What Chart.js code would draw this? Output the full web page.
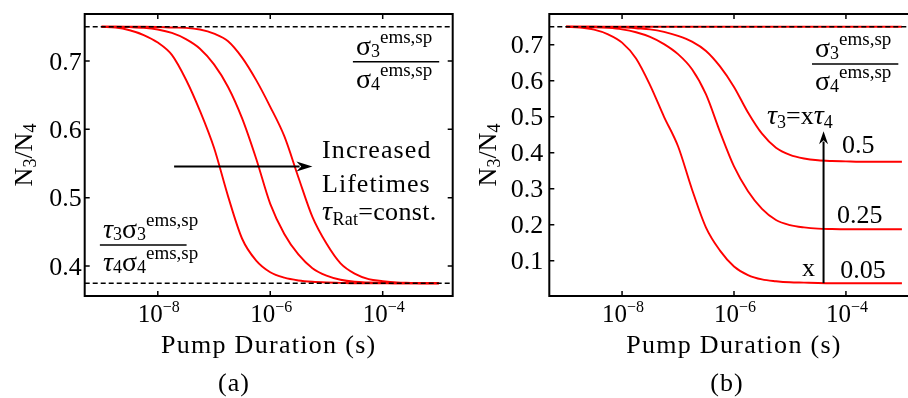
<!DOCTYPE html>
<html>
<head>
<meta charset="utf-8">
<script src="https://cdn.jsdelivr.net/npm/chart.js@4.4.1/dist/chart.umd.min.js"></script>
<style>
  html, body { margin: 0; padding: 0; background: #fff; overflow: hidden; width: 908px; height: 398px; }
  canvas { position: absolute; top: 0; }
  #chartA { left: 0; }
  #chartB { left: 460px; }
</style>
</head>
<body>
<canvas id="chartA" width="460" height="398"></canvas>
<canvas id="chartB" width="470" height="398"></canvas>
<script>
// pump duration grid, as powers of ten (s)
const exps = [-9, -8.75, -8.5, -8.25, -8, -7.75, -7.5, -7.25, -7, -6.75, -6.5, -6.25, -6,
              -5.75, -5.5, -5.25, -5, -4.75, -4.5, -4.25, -4, -3.75, -3.5, -3.25, -3];

// (a) increased lifetimes, tau ratio constant
const curveA1 = [.750, .749, .745, .738, .727, .709, .673, .627, .573, .502, .440, .408, .391,
                 .383, .379, .377, .376, .3755, .375, .375, .375, .375, .375, .375, .375];
const curveA2 = [.750, .750, .7495, .7485, .746, .741, .732, .718, .695, .662, .616, .557, .491,
                 .447, .417, .397, .386, .380, .377, .376, .3755, .375, .375, .375, .375];
const curveA3 = [.750, .750, .750, .750, .7498, .749, .7485, .746, .740, .729, .705, .672, .633,
                 .590, .530, .472, .433, .404, .389, .381, .378, .376, .3755, .375, .375];

// (b) tau3 = x * tau4
const curveB0 = exps.map(() => 0.75);
const curveB1 = [.750, .748, .742, .729, .706, .662, .588, .500, .418, .298, .192, .128, .084,
                 .060, .048, .043, .040, .039, .038, .0375, .0375, .0375, .0375, .0375, .0375];
const curveB2 = [.750, .7495, .749, .747, .743, .735, .722, .702, .674, .632, .562, .458, .362,
                 .293, .244, .213, .199, .1925, .189, .188, .1875, .1875, .1875, .1875, .1875];
const curveB3 = [.750, .750, .750, .7495, .749, .746, .743, .736, .725, .709, .683, .640, .583,
                 .512, .453, .414, .394, .384, .379, .377, .376, .375, .375, .375, .375];

const limitsA = [0.75, 0.375];
const limitsB = [0.75];

const xTickExps = [-8, -6, -4];
const yTicksA = [0.4, 0.5, 0.6, 0.7];
const yTicksB = [0.1, 0.2, 0.3, 0.4, 0.5, 0.6, 0.7];

const FONT = '"Liberation Serif", "Times New Roman", serif';
const RED = '#ff0000';

function font(size, it) {
    return (it ? 'italic ' : '') + size + 'px ' + FONT;
}

// parts: [text, size, dy, italic]
function rich(ctx, x, y, parts, align, ls) {
    ctx.letterSpacing = (ls || 0) + 'px';
    let w = 0;
    const ws = parts.map(p => {
        ctx.font = font(p[1], p[3]);
        const m = ctx.measureText(p[0]).width;
        w += m;
        return m;
    });
    let cx = align === 'center' ? x - w / 2 : align === 'right' ? x - w : x;
    parts.forEach((p, i) => {
        ctx.font = font(p[1], p[3]);
        ctx.fillText(p[0], cx, y + (p[2] || 0));
        cx += ws[i];
    });
    ctx.letterSpacing = '0px';
}

function frac(ctx, left, barY, barW, top, bottom) {
    ctx.lineWidth = 1.5;
    ctx.beginPath();
    ctx.moveTo(left, barY);
    ctx.lineTo(left + barW, barY);
    ctx.stroke();
    rich(ctx, left + 3, barY - 7, top, 'left');
    rich(ctx, left + 3, barY + 26, bottom, 'left');
}

function arrow(ctx, x0, y0, x1, y1, len, half) {
    const ang = Math.atan2(y1 - y0, x1 - x0);
    ctx.lineWidth = 2;
    ctx.beginPath();
    ctx.moveTo(x0, y0);
    ctx.lineTo(x1 - Math.cos(ang) * len * 0.8, y1 - Math.sin(ang) * len * 0.8);
    ctx.stroke();
    ctx.beginPath();
    ctx.moveTo(x1, y1);
    ctx.lineTo(x1 - Math.cos(ang) * len - Math.sin(ang) * half, y1 - Math.sin(ang) * len + Math.cos(ang) * half);
    ctx.lineTo(x1 - Math.cos(ang) * len * 0.7, y1 - Math.sin(ang) * len * 0.7);
    ctx.lineTo(x1 - Math.cos(ang) * len + Math.sin(ang) * half, y1 - Math.sin(ang) * len - Math.cos(ang) * half);
    ctx.closePath();
    ctx.fill();
}

function points(vals) {
    return exps.map((e, i) => ({ x: Math.pow(10, e), y: vals[i] }));
}

function redLine(vals) {
    return { data: points(vals), borderColor: RED, borderWidth: 1.9, pointRadius: 0, cubicInterpolationMode: 'monotone' };
}

function dashed(v, xmin, xmax) {
    return { data: [{ x: xmin, y: v }, { x: xmax, y: v }], borderColor: '#000', borderWidth: 1.6, borderDash: [5, 3], pointRadius: 0 };
}

function axesPlugin(yTicks, yLabelGap, panelLabel, panelX, notes) {
    return {
        id: 'axes',
        afterDatasetsDraw(chart) {
            const { ctx, chartArea: a, scales: { x, y } } = chart;
            const X = e => x.getPixelForValue(Math.pow(10, e));
            const Y = v => y.getPixelForValue(v);
            ctx.save();
            ctx.strokeStyle = '#000';
            ctx.fillStyle = '#000';

            // inward ticks on all sides
            ctx.lineWidth = 1.5;
            ctx.beginPath();
            xTickExps.forEach(e => {
                const px = X(e);
                ctx.moveTo(px, a.bottom); ctx.lineTo(px, a.bottom - 5);
                ctx.moveTo(px, a.top); ctx.lineTo(px, a.top + 5);
            });
            yTicks.forEach(v => {
                const py = Y(v);
                ctx.moveTo(a.left, py); ctx.lineTo(a.left + 5, py);
                ctx.moveTo(a.right, py); ctx.lineTo(a.right - 5, py);
            });
            ctx.stroke();
            ctx.lineWidth = 2;
            ctx.strokeRect(a.left, a.top, a.right - a.left, a.bottom - a.top);

            // tick labels
            yTicks.forEach(v => {
                rich(ctx, a.left - yLabelGap, Y(v) + 8.5, [[v.toFixed(1), 26, 0]], 'right');
            });
            xTickExps.forEach(e => {
                rich(ctx, X(e) + 1, a.bottom + 26, [['10', 25, 0], ['\u2212' + Math.abs(e), 16, -10]], 'center');
            });

            // axis titles
            rich(ctx, (a.left + a.right) / 2, a.bottom + 57, [['Pump Duration (s)', 26, 0]], 'center', 1.3);
            ctx.save();
            ctx.translate(a.left - 53, (a.top + a.bottom) / 2);
            ctx.rotate(-Math.PI / 2);
            rich(ctx, 0, 0, [['N', 26, 0], ['3', 18, 4], ['/N', 26, 0], ['4', 18, 4]], 'center');
            ctx.restore();
            rich(ctx, panelX, 391, [[panelLabel, 26, 0]], 'center', 1);

            notes(ctx, X, Y);
            ctx.restore();
        }
    };
}

const sigFracTop = [['\u03c3', 28, 0], ['3', 18, 2.5], ['ems,sp', 19, -11.5]];
const sigFracBot = [['\u03c3', 28, 0], ['4', 18, 2.5], ['ems,sp', 19, -11.5]];

function baseOptions(pad, xmin, xmax, ymin, ymax) {
    return {
        responsive: false,
        animation: false,
        devicePixelRatio: 1,
        layout: { padding: pad },
        plugins: { legend: { display: false }, tooltip: { enabled: false } },
        scales: {
            x: { type: 'logarithmic', display: false, min: xmin, max: xmax },
            y: { type: 'linear', display: false, min: ymin, max: ymax }
        }
    };
}

const xminA = Math.pow(10, -9.3), xmaxA = Math.pow(10, -2.755);
new Chart(document.getElementById('chartA'), {
    type: 'line',
    data: {
        datasets: [
            ...limitsA.map(v => dashed(v, xminA, xmaxA)),
            redLine(curveA1), redLine(curveA2), redLine(curveA3)
        ]
    },
    options: baseOptions({ left: 84.7, right: 7.3, top: 14, bottom: 102 }, xminA, xmaxA, 0.35625, 0.76875),
    plugins: [axesPlugin(yTicksA, 3, '(a)', 234, (ctx, X, Y) => {
        frac(ctx, X(-4.53), Y(0.699), 86.3, sigFracTop, sigFracBot);
        frac(ctx, X(-9.03), Y(0.431), 86.7,
            [['\u03c4', 28, 0, true], ['3', 18, 2.5], ['\u03c3', 28, 0], ['3', 18, 2.5], ['ems,sp', 19, -11.5]],
            [['\u03c4', 28, 0, true], ['4', 18, 2.5], ['\u03c3', 28, 0], ['4', 18, 2.5], ['ems,sp', 19, -11.5]]);
        rich(ctx, X(-5.078), Y(0.5582), [['Increased', 26, 0]], 'left', 1.1);
        rich(ctx, X(-5.078), Y(0.5085), [['Lifetimes', 26, 0]], 'left', 1);
        rich(ctx, X(-5.078), Y(0.4675), [['\u03c4', 28, 0, true], ['Rat', 18, 5], ['=const.', 26, 0]], 'left', 0.3);
        arrow(ctx, X(-7.71), Y(0.5455), X(-5.25), Y(0.5455), 16, 5);
    })]
});

const xminB = Math.pow(10, -9.3), xmaxB = Math.pow(10, -2.7);
new Chart(document.getElementById('chartB'), {
    type: 'line',
    data: {
        datasets: [
            ...limitsB.map(v => dashed(v, xminB, xmaxB)),
            redLine(curveB0), redLine(curveB1), redLine(curveB2), redLine(curveB3)
        ]
    },
    options: baseOptions({ left: 89.3, right: 11.3, top: 14, bottom: 102 }, xminB, xmaxB, 0.001875, 0.785625),
    plugins: [axesPlugin(yTicksB, 6, '(b)', 267, (ctx, X, Y) => {
        frac(ctx, X(-4.606), Y(0.647), 86.3, sigFracTop, sigFracBot);
        rich(ctx, X(-5.41), Y(0.481), [['\u03c4', 28, 0, true], ['3', 18, 4], ['=x', 26, 0], ['\u03c4', 28, 0, true], ['4', 18, 4]], 'left');
        arrow(ctx, X(-4.40), Y(0.0375), X(-4.40), Y(0.46), 13, 4.5);
        rich(ctx, X(-4.07), Y(0.398), [['0.5', 26, 0]], 'left');
        rich(ctx, X(-4.16), Y(0.206), [['0.25', 26, 0]], 'left');
        rich(ctx, X(-4.10), Y(0.052), [['0.05', 26, 0]], 'left');
        rich(ctx, X(-4.785), Y(0.058), [['x', 26, 0]], 'left');
    })]
});
</script>
</body>
</html>
